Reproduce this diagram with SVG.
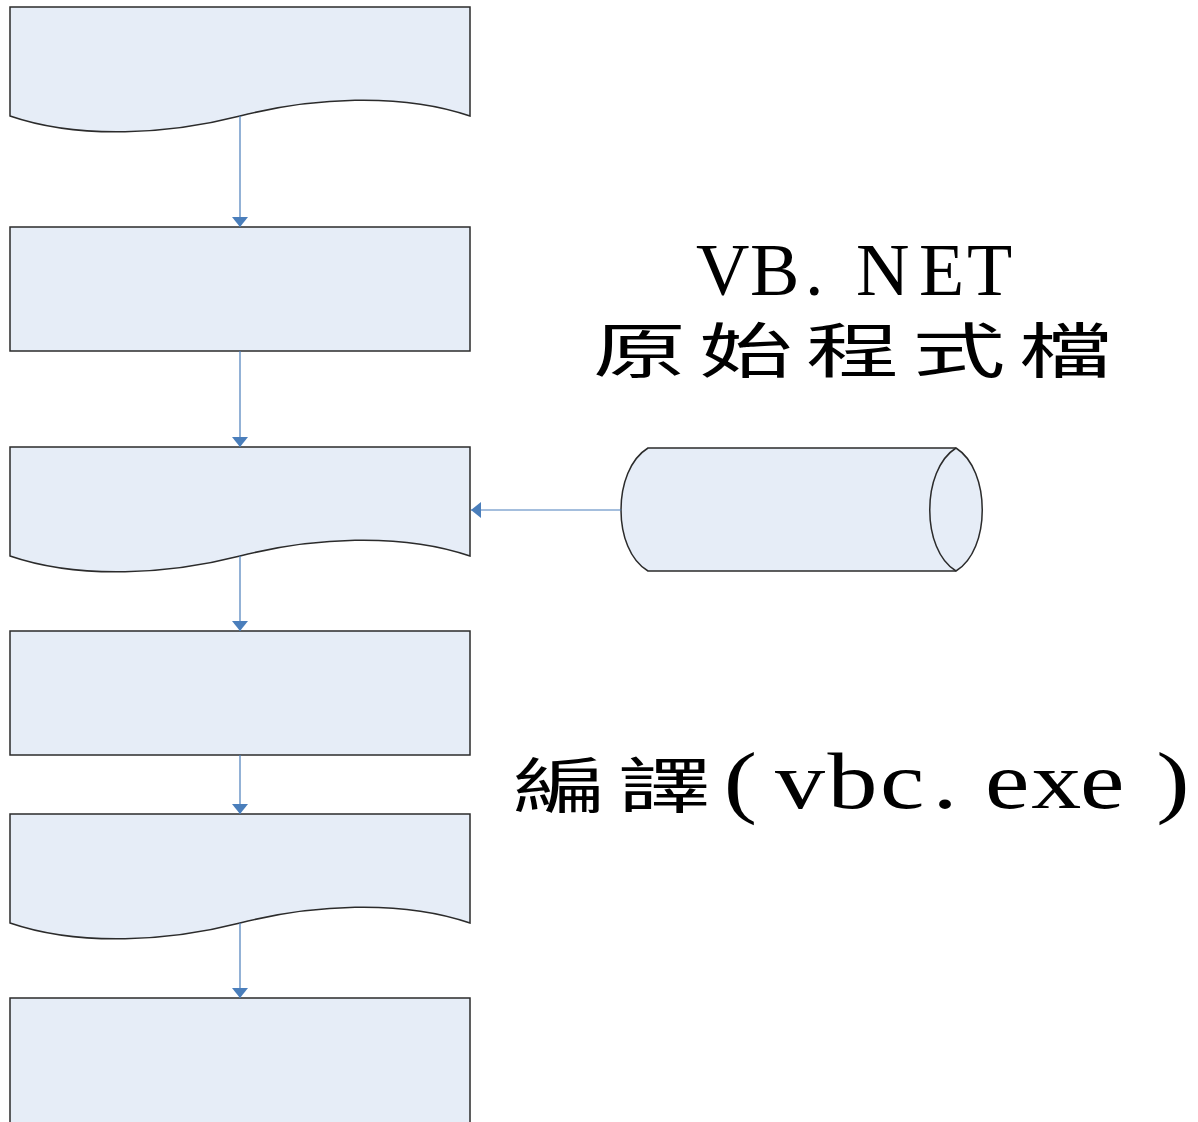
<svg xmlns="http://www.w3.org/2000/svg" width="1198" height="1122" viewBox="0 0 1198 1122">
  <style>
    .shape { fill: #E6EDF7; stroke: #2B2B2B; stroke-width: 1.5; }
    .link { fill: none; stroke: #4A7EBB; stroke-width: 1.2; }
    .serif { font-family: "Liberation Serif", "Noto Sans CJK TC", serif; fill: #000; }
    .cjk { font-family: "Noto Sans CJK TC", "Noto Sans CJK SC", sans-serif; fill: #000; }
  </style>
  <defs>
    <marker id="arrow" viewBox="0 0 10 16" refX="10" refY="8" markerWidth="10" markerHeight="16" markerUnits="userSpaceOnUse" orient="auto">
      <path d="M0,0 L10,8 L0,16 z" fill="#4A7EBB"/>
    </marker>
  </defs>

  <!-- flow steps, top to bottom -->
  <g id="step1">
    <path class="shape" d="M10,7 H470 V116 C400,92 310,98 240,116 C170,134 80,140 10,116 Z"/>
  </g>
  <g id="step2">
    <rect class="shape" x="10" y="227" width="460" height="124"/>
  </g>
  <g id="step3">
    <path class="shape" d="M10,447 H470 V556 C400,532 310,538 240,556 C170,574 80,580 10,556 Z"/>
  </g>
  <g id="step4">
    <rect class="shape" x="10" y="631" width="460" height="124"/>
  </g>
  <g id="step5">
    <path class="shape" d="M10,814 H470 V923 C400,899 310,905 240,923 C170,941 80,947 10,923 Z"/>
  </g>
  <g id="step6">
    <rect class="shape" x="10" y="998" width="460" height="140"/>
  </g>

  <!-- source file store (horizontal cylinder) -->
  <g id="source">
    <path class="shape" d="M648,448 H956 C991,470 991,550 956,571 H648 C612,550 612,470 648,448 Z"/>
    <path class="shape" fill="none" d="M956,448 C921,470 921,550 956,571"/>
  </g>

  <!-- connectors -->
  <g id="connectors">
    <line class="link" x1="240" y1="116" x2="240" y2="227" marker-end="url(#arrow)"/>
    <line class="link" x1="240" y1="351" x2="240" y2="447" marker-end="url(#arrow)"/>
    <line class="link" x1="240" y1="556" x2="240" y2="631" marker-end="url(#arrow)"/>
    <line class="link" x1="240" y1="755" x2="240" y2="814" marker-end="url(#arrow)"/>
    <line class="link" x1="240" y1="923" x2="240" y2="998" marker-end="url(#arrow)"/>
    <line class="link" x1="621" y1="510" x2="471" y2="510" marker-end="url(#arrow)"/>
  </g>

  <!-- labels -->
  <g id="label-source">
    <text class="serif" font-size="74" y="295"><tspan x="696">V</tspan><tspan x="750">B</tspan><tspan x="805">.</tspan><tspan x="856">N</tspan><tspan x="919">E</tspan><tspan x="967">T</tspan></text>
    <text class="cjk" font-size="60" letter-spacing="8.7" transform="translate(593,373) scale(1.55,1)">原始程式檔</text>
  </g>
  <g id="label-compile">
    <text class="cjk" font-size="60" letter-spacing="7.7" transform="translate(513,808) scale(1.55,1)">編譯</text>
    <text class="serif" font-size="80" transform="translate(775,808) scale(1.25,1)"><tspan x="-41">(</tspan><tspan x="0">v</tspan><tspan x="42">b</tspan><tspan x="84">c</tspan><tspan x="126">.</tspan><tspan x="168">e</tspan><tspan x="205">x</tspan><tspan x="244">e</tspan><tspan x="305">)</tspan></text>
  </g>
</svg>
